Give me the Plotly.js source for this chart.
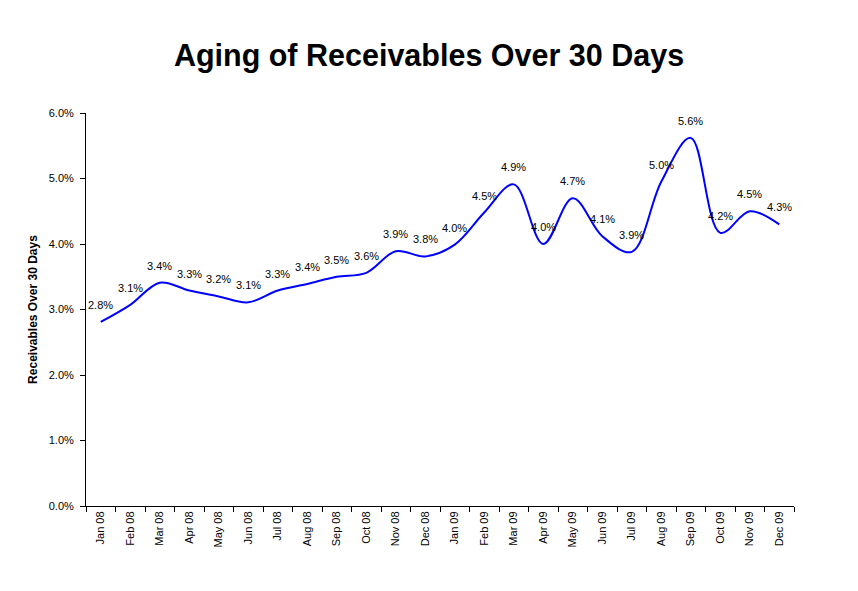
<!DOCTYPE html>
<html>
<head>
<meta charset="utf-8">
<script src="https://cdn.plot.ly/plotly-3.0.1.min.js"></script>
<style>html,body{margin:0;padding:0;background:#fff}#chart{width:858px;height:591px}</style>
</head>
<body>
<div id="chart"></div>
<script>
var months = ["Jan 08","Feb 08","Mar 08","Apr 08","May 08","Jun 08","Jul 08","Aug 08","Sep 08","Oct 08","Nov 08","Dec 08",
              "Jan 09","Feb 09","Mar 09","Apr 09","May 09","Jun 09","Jul 09","Aug 09","Sep 09","Oct 09","Nov 09","Dec 09"];
var receivablesPct = [2.81,3.07,3.41,3.29,3.20,3.11,3.29,3.39,3.50,3.56,3.89,3.81,
                      3.99,4.48,4.91,4.00,4.70,4.12,3.88,4.95,5.62,4.17,4.50,4.30];
var yTicks = [0,1,2,3,4,5,6];

var font = 'Liberation Sans, Arial, sans-serif';

var trace = {
  x: months,
  y: receivablesPct,
  type: 'scatter',
  mode: 'lines',
  line: {color: '#0000FF', width: 2, shape: 'spline', smoothing: 1},
  hoverinfo: 'x+y'
};

var labels = months.map(function(m, i){
  return {
    x: m, y: receivablesPct[i], xref: 'x', yref: 'y',
    text: receivablesPct[i].toFixed(1) + '%',
    showarrow: false, xanchor: 'center', yanchor: 'middle', yshift: 17,
    font: {family: font, size: 11, color: '#000000'}
  };
});

var layout = {
  width: 858, height: 591,
  margin: {l: 86, r: 64, t: 113, b: 85},
  paper_bgcolor: '#ffffff', plot_bgcolor: '#ffffff',
  showlegend: false,
  title: {
    text: '<b>Aging of Receivables Over 30 Days</b>',
    font: {family: font, size: 30.5, color: '#000000'},
    x: 0.5, xanchor: 'center', y: 0.907, yanchor: 'middle'
  },
  annotations: labels,
  xaxis: {
    type: 'category',
    tickson: 'boundaries',
    ticks: 'outside', ticklen: 5, tickcolor: '#000', tickwidth: 1,
    tickangle: -90,
    tickfont: {family: font, size: 11, color: '#000'},
    showline: true, linecolor: '#000', linewidth: 1,
    showgrid: false, zeroline: false,
    range: [-0.5, 23.5]
  },
  yaxis: {
    range: [0, 6],
    tickvals: yTicks,
    ticktext: yTicks.map(function(v){ return v.toFixed(1) + '%'; }),
    ticks: 'outside', ticklen: 5, tickcolor: '#000', tickwidth: 1,
    ticklabelstandoff: 4,
    tickfont: {family: font, size: 11, color: '#000'},
    showline: true, linecolor: '#000', linewidth: 1,
    showgrid: false, zeroline: false,
    title: {text: '<b>Receivables Over 30 Days</b>', standoff: 8,
            font: {family: font, size: 12, color: '#000'}}
  }
};

Plotly.newPlot('chart', [trace], layout, {displayModeBar: false, staticPlot: true});
</script>
</body>
</html>
